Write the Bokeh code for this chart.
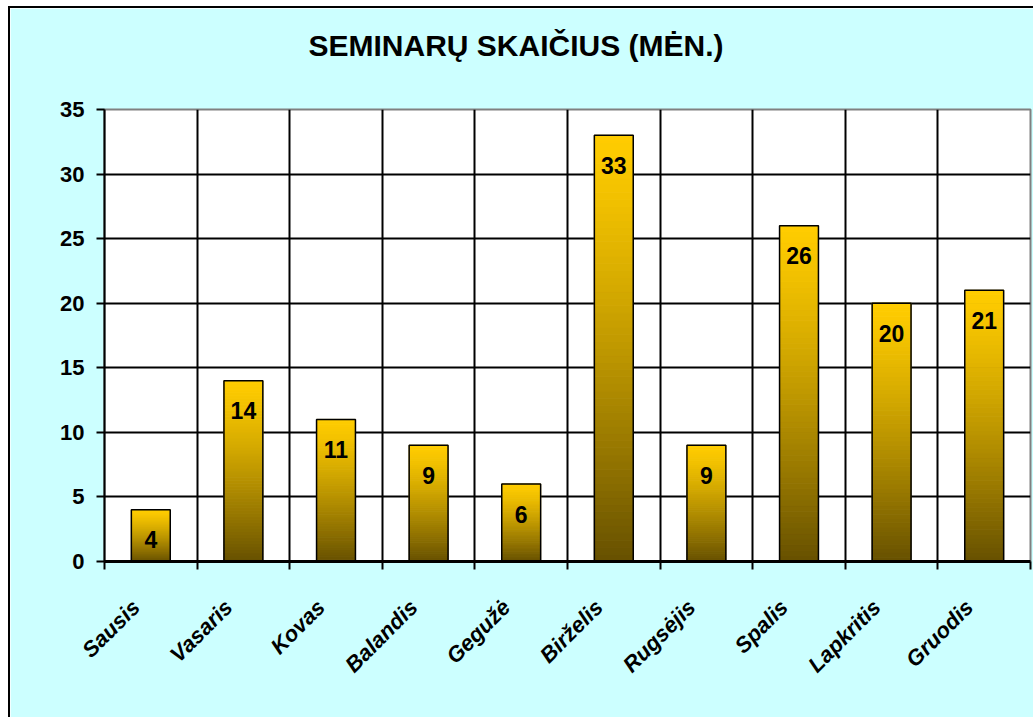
import math
from bokeh.plotting import figure
from bokeh.models import Range1d, FixedTicker, LinearAxis, ColumnDataSource, Grid, Title
from bokeh.core.properties import value
from bokeh.embed import file_html
from bokeh.resources import INLINE

# ---- data ----
months = ["Sausis", "Vasaris", "Kovas", "Balandis", "Gegužė",
          "Birželis", "Rugsėjis", "Spalis", "Lapkritis", "Gruodis"]
counts = [4, 14, 11, 9, 6, 33, 9, 26, 20, 21]
y_ticks = [0, 5, 10, 15, 20, 25, 30, 35]
title_text = "SEMINARŲ SKAIČIUS (MĖN.)"

FONT = "Liberation Sans"
BAR_W = 0.42
LABEL_SHIFT = -0.16
TOP_RGB = (255, 204, 0)
BOT_RGB = (102, 80, 0)

n = len(months)
centers = [i + 0.5 for i in range(n)]
bounds = list(range(n + 1))

p = figure(width=1023, height=709, output_backend="svg", toolbar_location=None,
           x_range=Range1d(0, n), y_range=Range1d(0, 35),
           x_axis_type=None, y_axis_type=None,
           min_border_left=94, min_border_right=3, min_border_top=101, min_border_bottom=156)
p.background_fill_color = "white"
p.border_fill_color = "#CCFFFF"
p.outline_line_color = "#808080"
p.outline_line_width = 2
p.styles = {"margin-left": "10px", "margin-top": "8px", "outline": "2px solid black"}

# invisible spacer between frame and title
spacer = LinearAxis(ticker=FixedTicker(ticks=[0], minor_ticks=[]))
spacer.axis_line_color = None
spacer.major_tick_line_color = None
spacer.minor_tick_line_color = None
spacer.major_tick_out = 43
spacer.major_tick_in = 0
spacer.major_label_overrides = {0: ""}
spacer.major_label_standoff = 0
p.add_layout(spacer, "above")

# title
title = Title(text=title_text, align="left", offset=204, standoff=10,
              text_font=FONT, text_font_size="30px", text_font_style="bold",
              text_color="black")
p.add_layout(title, "above")

# axes
yax = LinearAxis(ticker=FixedTicker(ticks=y_ticks, minor_ticks=[]))
yax.axis_line_width = 2
yax.axis_line_color = "black"
yax.major_tick_out = 8
yax.major_tick_in = 0
yax.major_tick_line_width = 2
yax.minor_tick_line_color = None
yax.major_label_text_font = FONT
yax.major_label_text_font_size = "22px"
yax.major_label_text_font_style = "bold"
yax.major_label_text_color = "black"
yax.major_label_standoff = 12
p.add_layout(yax, "left")

label_pos = [c + LABEL_SHIFT for c in centers]
xax = LinearAxis(ticker=FixedTicker(ticks=label_pos, minor_ticks=bounds))
xax.axis_line_width = 3
xax.axis_line_color = "black"
xax.major_tick_out = 0
xax.major_tick_in = 0
xax.minor_tick_out = 8
xax.minor_tick_in = 0
xax.minor_tick_line_width = 2
xax.minor_tick_line_color = "black"
xax.major_label_overrides = {c: m for c, m in zip(label_pos, months)}
xax.major_label_orientation = math.pi / 4
xax.major_label_text_font = FONT
xax.major_label_text_font_size = "22px"
xax.major_label_text_font_style = "bold italic"
xax.major_label_text_color = "black"
xax.major_label_standoff = 34
p.add_layout(xax, "below")

# grids
p.add_layout(Grid(dimension=0, ticker=FixedTicker(ticks=bounds),
                  grid_line_color="black", grid_line_width=2))
p.add_layout(Grid(dimension=1, ticker=FixedTicker(ticks=y_ticks),
                  grid_line_color="black", grid_line_width=2))

# gradient bars (each bar sliced into thin bands)
SLICES = 60
L, R, B, T, C = [], [], [], [], []
for c, v in zip(centers, counts):
    for k in range(SLICES):
        b = v * k / SLICES
        t = v * (k + 1) / SLICES
        frac_from_top = 1 - (k + 0.5) / SLICES
        s = frac_from_top ** 1.25
        rgb = tuple(int(round(TOP_RGB[j] + (BOT_RGB[j] - TOP_RGB[j]) * s)) for j in range(3))
        L.append(c - BAR_W / 2); R.append(c + BAR_W / 2)
        B.append(b); T.append(t)
        C.append("#%02x%02x%02x" % rgb)
p.quad(left=L, right=R, bottom=B, top=T, fill_color=C, line_color=C, line_width=1)

src = ColumnDataSource(dict(x=centers, top=counts, lab=[str(v) for v in counts]))
p.vbar(x="x", top="top", bottom=0, width=BAR_W, source=src,
       fill_color=None, line_color="black", line_width=1.5)

p.text(x="x", y="top", text="lab", source=src, y_offset=30,
       text_align="center", text_baseline="middle",
       text_font=value(FONT), text_font_size="23px", text_font_style="bold",
       text_color="black")

open("out.html", "w").write(file_html(p, INLINE))
